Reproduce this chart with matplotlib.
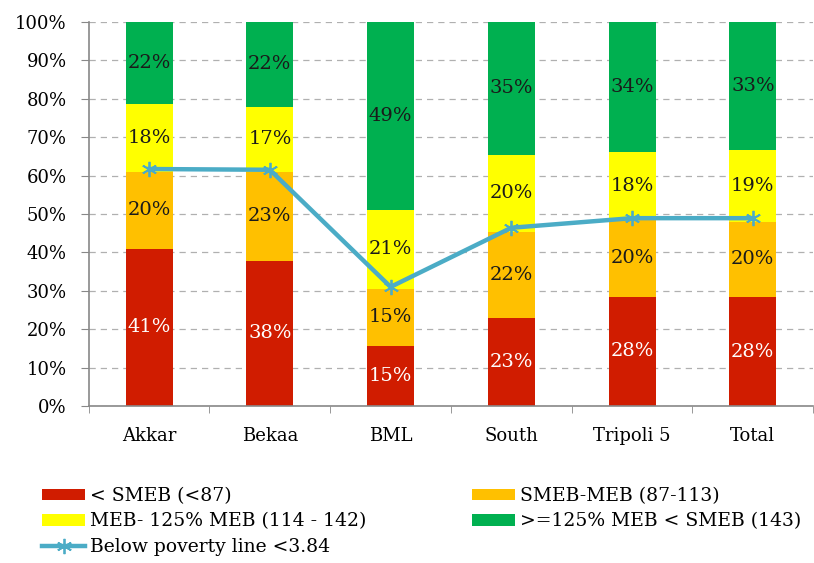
import numpy as np
import matplotlib
matplotlib.use("Agg")
import matplotlib.pyplot as plt

plt.rcParams['font.family'] = ['DejaVu Serif']

# Data
regions = ['Akkar', 'Bekaa', 'BML', 'South', 'Tripoli 5', 'Total']
below_smeb = [40.9, 37.8, 15.7, 22.9, 28.4, 28.3]
smeb_meb = [20.1, 23.2, 14.8, 22.4, 20.0, 19.7]
meb_125 = [17.6, 16.9, 20.5, 20.1, 17.7, 18.6]
above_125 = [21.4, 22.1, 49.0, 34.6, 33.9, 33.4]

# labels as printed on the bars
lbl_below_smeb = [41, 38, 15, 23, 28, 28]
lbl_smeb_meb = [20, 23, 15, 22, 20, 20]
lbl_meb_125 = [18, 17, 21, 20, 18, 19]
lbl_above_125 = [22, 22, 49, 35, 34, 33]

poverty_line = [61.7, 61.5, 31.0, 46.4, 48.9, 48.9]

series = [
    ('< SMEB (<87)', below_smeb, lbl_below_smeb, '#D01C00', 'white'),
    ('SMEB-MEB (87-113)', smeb_meb, lbl_smeb_meb, '#FFC000', '#1a1a1a'),
    ('MEB- 125% MEB (114 - 142)', meb_125, lbl_meb_125, '#FFFF00', '#1a1a1a'),
    ('>=125% MEB < SMEB (143)', above_125, lbl_above_125, '#00B050', '#1a1a1a'),
]

fig = plt.figure(figsize=(8.14, 5.63), dpi=100)
ax = fig.add_axes([0.109, 0.279, 0.89, 0.682])

x = np.arange(len(regions))
bottom = np.zeros(len(regions))
handles = {}
for name, vals, lbls, col, tcol in series:
    vals = np.array(vals) / 100
    bars = ax.bar(x, vals, 0.39, bottom=bottom, color=col, label=name, zorder=2)
    handles[name] = bars
    for xi, b, v, l in zip(x, bottom, vals, lbls):
        ax.text(xi, b + v / 2, f'{l}%', ha='center', va='center',
                fontsize=14, color=tcol, zorder=4)
    bottom += vals

line, = ax.plot(x, np.array(poverty_line) / 100, color='#4BACC6', lw=3.2,
                marker=(6, 2, 0), markersize=11, markeredgewidth=1.3,
                label='Below poverty line <3.84', zorder=3)

ax.set_ylim(0, 1)
ax.set_xlim(-0.5, 5.42)
ax.set_yticks(np.arange(0, 1.01, 0.1))
ax.set_yticklabels([f'{int(round(t * 100))}%' for t in np.arange(0, 1.01, 0.1)])
ax.yaxis.grid(True, ls=(0, (5, 4)), color='#b0b0b0', lw=0.9, zorder=0)
ax.set_axisbelow(True)

ax.set_xticks(x)
ax.set_xticklabels(regions)
ax.set_xticks(np.arange(-0.5, 5.6, 1), minor=True)
ax.tick_params(axis='x', which='major', length=0, pad=15, labelsize=13)
ax.tick_params(axis='x', which='minor', length=5, color='#888888')
ax.tick_params(axis='y', length=6, color='#888888', labelsize=13, pad=10)

for s in ['top', 'right']:
    ax.spines[s].set_visible(False)
for s in ['left', 'bottom']:
    ax.spines[s].set_color('#888888')
    ax.spines[s].set_linewidth(1.2)

leg_kw = dict(loc='upper left', frameon=False, fontsize=13.5, handlelength=2.3,
              handleheight=0.55, handletextpad=0.28, labelspacing=0.4,
              borderaxespad=0, borderpad=0)
leg1 = fig.legend([handles['< SMEB (<87)'], handles['MEB- 125% MEB (114 - 142)'], line],
                  ['< SMEB (<87)', 'MEB- 125% MEB (114 - 142)', 'Below poverty line <3.84'],
                  bbox_to_anchor=(42 / 814, 1 - 487 / 563), **leg_kw)
leg2 = fig.legend([handles['SMEB-MEB (87-113)'], handles['>=125% MEB < SMEB (143)']],
                  ['SMEB-MEB (87-113)', '>=125% MEB < SMEB (143)'],
                  bbox_to_anchor=(472 / 814, 1 - 487 / 563), **leg_kw)

fig.savefig('out.png', dpi=100)
